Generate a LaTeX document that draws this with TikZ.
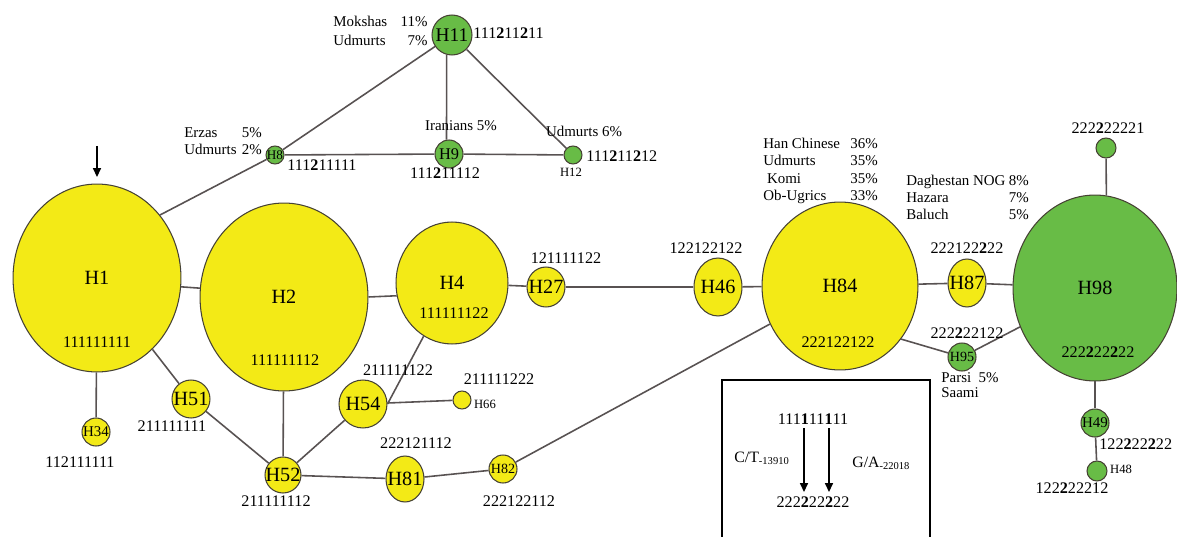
\documentclass[tikz,border=0pt]{standalone}
\usepackage{fontspec}
\setmainfont{Liberation Serif}
\usepackage{xcolor}
\usepackage{tikz}
\usetikzlibrary{arrows.meta,shapes.geometric}
\definecolor{hapyel}{RGB}{243,234,22}
\definecolor{hapgrn}{RGB}{104,188,70}
\definecolor{rim}{RGB}{70,66,52}
\definecolor{link}{RGB}{88,82,82}
\newcommand{\hlab}[1]{\makebox[0pt]{#1}}
\newcommand{\fsz}[1]{\fontsize{#1}{#1}\selectfont}

\begin{document}
\begin{tikzpicture}[x=0.02cm,y=-0.02cm,
  every node/.style={font=\fsz{9.2}},
  hap/.style n args={2}{ellipse,draw=rim,line width=0.6pt,inner sep=0pt,
    minimum width=#1*0.04cm,minimum height=#2*0.04cm},
  yel/.style={fill=hapyel},
  grn/.style={fill=hapgrn},
  seq/.style={inner sep=0pt},
  txt/.style={inner sep=0pt,font=\fsz{8.5}},
  pop/.style={inner sep=0pt,anchor=west,font=\fontsize{8.5}{#1}\selectfont},
  edge/.style={draw=link,line width=0.9pt},
  tip/.style={line width=0.8pt,-{Triangle[length=5pt,width=4.5pt]}}]
 \useasboundingbox (0,0) rectangle (1177,537);
 \node[hap={84}{94},yel,font=\fsz{11.5}] (H1) at (97,278) {\hlab{H1}};
 \node[hap={84}{94},yel,font=\fsz{11.5}] (H2) at (284,297) {\hlab{H2}};
 \node[hap={56}{61},yel,font=\fsz{11.5}] (H4) at (452,283) {\hlab{H4}};
 \node[hap={19}{20},yel,font=\fsz{11.5}] (H27) at (546,287) {\hlab{H27}};
 \node[hap={24}{29},yel,font=\fsz{11.5}] (H46) at (718,287) {\hlab{H46}};
 \node[hap={78}{84},yel,font=\fsz{11.5}] (H84) at (840,286) {\hlab{H84}};
 \node[hap={19}{24},yel,font=\fsz{11.5}] (H87) at (967,283) {\hlab{H87}};
 \node[hap={82}{93},grn,font=\fsz{11.5}] (H98) at (1095,288) {\hlab{H98}};
 \node[hap={19}{19},yel,font=\fsz{11.5}] (H51) at (191,399) {\hlab{H51}};
 \node[hap={18}{18},yel,font=\fsz{11.5}] (H52) at (283,475) {\hlab{H52}};
 \node[hap={24}{24},yel,font=\fsz{11.5}] (H54) at (363,404) {\hlab{H54}};
 \node[hap={19}{23},yel,font=\fsz{11.5}] (H81) at (405,479) {\hlab{H81}};
 \node[hap={14}{14},yel,font=\fsz{8}] (H82) at (503,469) {\hlab{H82}};
 \node[hap={14}{14},yel,font=\fsz{8.5}] (H34) at (96,432) {\hlab{H34}};
 \node[hap={9}{9},yel] (H66) at (462,400) {};
 \node[hap={20}{20},grn,font=\fsz{11}] (H11) at (452,35) {\hlab{H11}};
 \node[hap={14}{14},grn,font=\fsz{9.3}] (H9) at (449,154) {\hlab{H9}};
 \node[hap={9}{9},grn,font=\fsz{7.5}] (H8) at (275,155) {\hlab{H8}};
 \node[hap={9}{9},grn] (H12) at (573,155) {};
 \node[hap={10}{10},grn] (Hg) at (1106,148) {};
 \node[hap={14}{14},grn,font=\fsz{8}] (H95) at (962,357) {\hlab{H95}};
 \node[hap={14}{14},grn,font=\fsz{8.5}] (H49) at (1095,423) {\hlab{H49}};
 \node[hap={10}{10},grn] (H48) at (1097,471) {};
 \foreach \a/\b in {H1/H34,H1/H51,H51/H52,H2/H52,H52/H54,H54/H66,H52/H81,H81/H82,H82/H84,
   H4/H27,H27/H46,H46/H84,H84/H87,H87/H98,H98/H49,H49/H48,H95/H98,H8/H9,H9/H12,H8/H11,H11/H12}
   \draw[edge] (\a)--(\b);
 \draw[edge] (H1.-6)--(H2.174);
 \draw[edge] (H2.east)--(H4.-167);
 \draw[edge] (H54.east)--(H4);
 \draw[edge] (H1.45)--(H8);
 \draw[edge] (H9.100)--(H11.-105);
 \draw[edge] (H84.-41)--(H95);
 \draw[edge] (Hg)--(H98.83);
 \node[seq] (sH1) at (97,342) {111111111};
 \node[seq] (sH2) at (285,360) {111111112};
 \node[seq] (sH4) at (454,313) {111111122};
 \node[seq] (sH27) at (566,258) {121111122};
 \node[seq] (sH46) at (706,248) {122122122};
 \node[seq] (sH84) at (838,342) {222122122};
 \node[seq] (sH87) at (967,248) {222122\textbf{2}22};
 \node[seq] (sH95) at (967,333) {222\textbf{2}22122};
 \node[seq] (sH98) at (1098,352) {222\textbf{2}22\textbf{2}22};
 \node[seq] (sHg) at (1108,128) {222\textbf{2}22221};
 \node[seq,anchor=west] (sH49) at (1099,444) {122\textbf{2}22\textbf{2}22};
 \node[seq] (sH48) at (1072,488) {122\textbf{2}22212};
 \node[seq] (sH34) at (80,462) {112111111};
 \node[seq] (sH51) at (172,426) {211111111};
 \node[seq] (sH52) at (276,501) {211111112};
 \node[seq] (sH54) at (398,370) {211111122};
 \node[seq] (sH66) at (499,379) {211111222};
 \node[seq] (sH81) at (416,443) {222121112};
 \node[seq] (sH82) at (519,501) {222122112};
 \node[seq,anchor=west] (sH11) at (473,33) {111\textbf{2}11\textbf{2}11};
 \node[seq] (sH8) at (322,165) {111\textbf{2}11111};
 \node[seq] (sH9) at (445,173) {111\textbf{2}11112};
 \node[seq,anchor=west] (sH12) at (586,156) {111\textbf{2}11\textbf{2}12};
 \node[txt,font=\fsz{7.2}] (tH12) at (571,172) {H12};
 \node[txt,font=\fsz{7.2}] (tH48) at (1121,469) {H48};
 \node[txt,font=\fsz{7.2}] (tH66) at (485,404) {H66};
 \node[pop=10.8pt] (pMo) at (333,32)
   {\begin{tabular}{@{}l@{\hspace{7.6pt}}r@{}}Mokshas & 11\%\\ Udmurts & 7\%\end{tabular}};
 \node[pop=9.6pt] (pEr) at (184,143)
   {\begin{tabular}{@{}l@{\hspace{3pt}}r@{}}Erzas & 5\%\\ Udmurts & 2\%\end{tabular}};
 \node[txt] (pIr) at (461,126) {Iranians 5\%};
 \node[txt] (pUd) at (584,131) {Udmurts 6\%};
 \node[pop=9.9pt] (pHan) at (763,171)
   {\begin{tabular}{@{}l@{\hspace{5.9pt}}r@{}}Han Chinese & 36\%\\ Udmurts & 35\%\\ \ Komi & 35\%\\ Ob-Ugrics & 33\%\end{tabular}};
 \node[pop=9.6pt] (pDa) at (906,199)
   {\begin{tabular}{@{}l@{\hspace{2pt}}r@{}}Daghestan NOG & 8\%\\ Hazara & 7\%\\ Baluch & 5\%\end{tabular}};
 \node[pop=8.5pt] (pPa) at (941,387)
   {\begin{tabular}{@{}l@{}}Parsi\ \ 5\%\\ Saami\end{tabular}};
 \coordinate (mk0) at (97,146);
 \coordinate (mk1) at (97,177);
 \draw[tip] (mk0)--(mk1);
 \draw[line width=0.8pt] (722,537) |- (930,380) -- (930,537);
 \node[seq] (lgT) at (813,419) {111\textbf{1}11\textbf{1}11};
 \node[seq] (lgB) at (813,502) {222\textbf{2}22\textbf{2}22};
 \coordinate (c4t) at (804,428);
 \coordinate (c4b) at (804,492);
 \coordinate (c7t) at (829,428);
 \coordinate (c7b) at (829,492);
 \draw[tip] (c4t)--(c4b);
 \draw[tip] (c7t)--(c7b);
 \node[txt,anchor=west,font=\fsz{9}] (lCT) at (734,458) {C/T\textsubscript{-13910}};
 \node[txt,anchor=west,font=\fsz{9}] (lGA) at (852,463) {G/A\textsubscript{-22018}};
\end{tikzpicture}
\end{document}
